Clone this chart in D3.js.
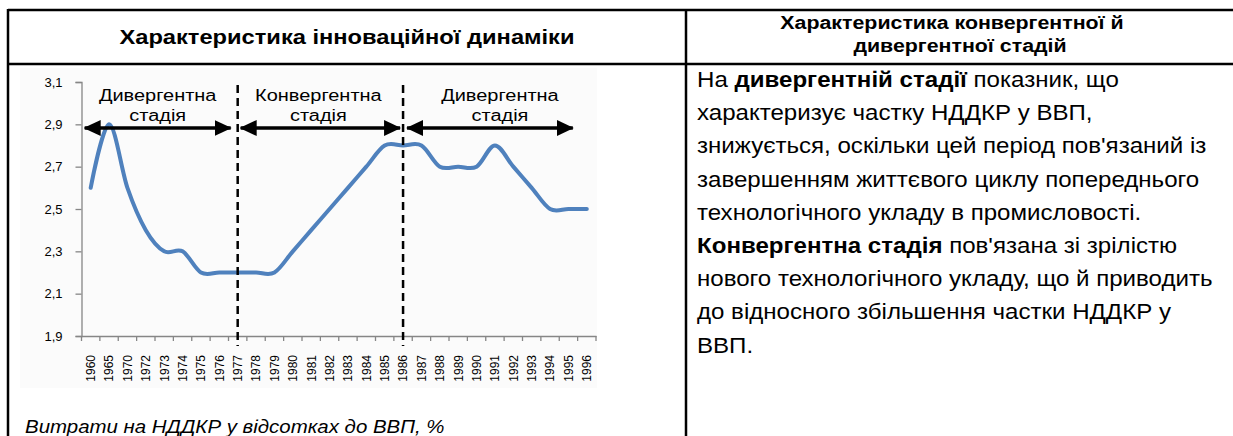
<!DOCTYPE html>
<html lang="uk">
<head>
<meta charset="utf-8">
<title>Інноваційна динаміка</title>
<script src="https://cdn.jsdelivr.net/npm/d3@7"></script>
<style>
body { margin: 0; background: #fff; }
svg text { font-family: "Liberation Sans", Arial, sans-serif; fill: #000; }
</style>
</head>
<body>
<script>
// chart data
var years = ["1960", "1965", "1970", "1972", "1973", "1974", "1975", "1976", "1977",
    "1978", "1979", "1980", "1981", "1982", "1983", "1984", "1985", "1986", "1987",
    "1988", "1989", "1990", "1991", "1992", "1993", "1994", "1995", "1996"];
var values = [2.6, 2.9, 2.6, 2.4, 2.3, 2.3, 2.2, 2.2, 2.2,
    2.2, 2.2, 2.3, 2.4, 2.5, 2.6, 2.7, 2.8, 2.8, 2.8,
    2.7, 2.7, 2.7, 2.8, 2.7, 2.6, 2.5, 2.5, 2.5];
var yTicks = [1.9, 2.1, 2.3, 2.5, 2.7, 2.9, 3.1];
var boundaryYears = ["1977", "1986"];
var stageNames = [["Дивергентна", "стадія"], ["Конвергентна", "стадія"], ["Дивергентна", "стадія"]];
var stageFrom = ["1960", "1977", "1986"];
var stageTo = ["1977", "1986", "1996"];

var caption = "Витрати на НДДКР у відсотках до ВВП, %";
var leftHeader = "Характеристика інноваційної динаміки";
var rightHeader = ["Характеристика конвергентної й", "дивергентної стадій"];
// each line: list of [text, bold]
var bodyLines = [
    [["На ", false], ["дивергентній стадії", true], [" показник, що", false]],
    [["характеризує частку НДДКР у ВВП,", false]],
    [["знижується, оскільки цей період пов'язаний із", false]],
    [["завершенням життєвого циклу попереднього", false]],
    [["технологічного укладу в промисловості.", false]],
    [["Конвергентна стадія", true], [" пов'язана зі зрілістю", false]],
    [["нового технологічного укладу, що й приводить", false]],
    [["до відносного збільшення частки НДДКР у", false]],
    [["ВВП.", false]]
];

var w = 1233, h = 436;
var svg = d3.select("body").append("svg")
    .attr("width", w)
    .attr("height", h);

// the source text is a bit wider than plain Arial, so stretch it a little
function place(x0, y0, sx) {
    return "translate(" + x0 + "," + y0 + ") scale(" + (sx || 1.155) + ",1)";
}

// table frame
var colX = 686, topY = 10, headY = 64, leftX = 8;
var frame = svg.append("g").attr("stroke", "#000").attr("stroke-width", 2.5);
frame.append("line").attr("x1", leftX).attr("x2", w).attr("y1", topY).attr("y2", topY);
frame.append("line").attr("x1", leftX).attr("x2", w).attr("y1", headY).attr("y2", headY);
frame.append("line").attr("x1", leftX).attr("x2", leftX).attr("y1", topY - 1).attr("y2", h);
frame.append("line").attr("x1", colX).attr("x2", colX).attr("y1", topY - 1).attr("y2", h);

svg.append("text")
    .attr("transform", place(347, 44))
    .attr("text-anchor", "middle")
    .attr("font-size", 20.5).attr("font-weight", "bold")
    .text(leftHeader);

svg.selectAll("text.rh")
    .data(rightHeader)
    .enter().append("text")
    .attr("class", "rh")
    .attr("transform", function(d, i) { return place(i ? 960 : 952, 29 + i * 23); })
    .attr("text-anchor", "middle")
    .attr("font-size", 18.5).attr("font-weight", "bold")
    .text(function(d) { return d; });

var body = svg.selectAll("text.body")
    .data(bodyLines)
    .enter().append("text")
    .attr("class", "body")
    .attr("transform", function(d, i) { return place(697, 87 + i * 33.2, 1.07); })
    .attr("font-size", 22.5);
body.selectAll("tspan")
    .data(function(d) { return d; })
    .enter().append("tspan")
    .attr("font-weight", function(d) { return d[1] ? "bold" : "normal"; })
    .text(function(d) { return d[0]; });

// chart
svg.append("rect")
    .attr("x", 20).attr("y", 68).attr("width", 577).attr("height", 320)
    .attr("fill", "#fbfbfb");

var x = d3.scaleBand()
    .domain(years)
    .range([81.5, 596])
    .paddingInner(0).paddingOuter(0);
var y = d3.scaleLinear()
    .domain([1.9, 3.1])
    .range([336, 82]);
var cx = function(yr) { return x(yr) + x.bandwidth() / 2; };

var axisColor = "#868686";

var yAxis = svg.append("g")
    .attr("transform", "translate(81.5,0)")
    .call(d3.axisLeft(y)
        .tickValues(yTicks)
        .tickSize(6)
        .tickPadding(13)
        .tickFormat(function(d) { return d3.format(".1f")(d).replace(".", ","); }));
yAxis.select(".domain").attr("stroke", axisColor).attr("stroke-width", 1.3);
yAxis.selectAll(".tick line").attr("stroke", axisColor).attr("stroke-width", 1.3);
yAxis.selectAll(".tick text")
    .attr("font-family", "DejaVu Sans, sans-serif")
    .attr("font-size", 13)
    .attr("fill", "#333");

var xAxis = svg.append("g")
    .attr("transform", "translate(0,336)")
    .call(d3.axisBottom(x).tickSize(0).tickPadding(0));
xAxis.select(".domain").attr("stroke", axisColor).attr("stroke-width", 1.3);
xAxis.selectAll(".tick text")
    .attr("font-family", "DejaVu Sans, sans-serif")
    .attr("font-size", 12)
    .attr("fill", "#333")
    .attr("text-anchor", "end")
    .attr("transform", "translate(0,19) rotate(-90)")
    .attr("x", 0).attr("y", 0)
    .attr("dy", "0.36em");
// tick marks sit between categories
xAxis.selectAll("line.edge")
    .data(years.concat(["end"]))
    .enter().append("line")
    .attr("class", "edge")
    .attr("x1", function(d, i) { return x.range()[0] + i * x.bandwidth(); })
    .attr("x2", function(d, i) { return x.range()[0] + i * x.bandwidth(); })
    .attr("y1", 0).attr("y2", 5)
    .attr("stroke", axisColor).attr("stroke-width", 1.3);

// series line
var line = d3.line()
    .x(function(d, i) { return cx(years[i]); })
    .y(function(d) { return y(d); })
    .curve(d3.curveCatmullRom.alpha(0));
svg.append("path")
    .datum(values)
    .attr("d", line)
    .attr("fill", "none")
    .attr("stroke", "#4f81bd")
    .attr("stroke-width", 4)
    .attr("stroke-linejoin", "round")
    .attr("stroke-linecap", "round");

// stage boundaries
svg.selectAll("line.bound")
    .data(boundaryYears)
    .enter().append("line")
    .attr("class", "bound")
    .attr("x1", function(d) { return cx(d); })
    .attr("x2", function(d) { return cx(d); })
    .attr("y1", 85).attr("y2", 346)
    .attr("stroke", "#000").attr("stroke-width", 2.5)
    .attr("stroke-dasharray", "8,5");

// arrows
var defs = svg.append("defs");
defs.append("marker")
    .attr("id", "head")
    .attr("markerUnits", "userSpaceOnUse")
    .attr("markerWidth", 17).attr("markerHeight", 16)
    .attr("refX", 16).attr("refY", 8)
    .attr("orient", "auto-start-reverse")
    .append("path")
    .attr("d", "M0,0 L17,8 L0,16 Z")
    .attr("fill", "#000");

var arrowY = 128;
var startPad = [-6, 3, 4];
var endPad = [-7, -3, -14];
var labelShift = [0, -2, 10];
var stages = stageNames.map(function(n, i) {
    var a = cx(stageFrom[i]) + startPad[i];
    var b = cx(stageTo[i]) + endPad[i];
    return { name: n, a: a, b: b, mid: (a + b) / 2 + labelShift[i] };
});

svg.selectAll("line.arrow")
    .data(stages)
    .enter().append("line")
    .attr("class", "arrow")
    .attr("x1", function(d) { return d.a; })
    .attr("x2", function(d) { return d.b; })
    .attr("y1", arrowY).attr("y2", arrowY)
    .attr("stroke", "#000").attr("stroke-width", 3.3)
    .attr("marker-start", "url(#head)")
    .attr("marker-end", "url(#head)");

svg.selectAll("g.stage")
    .data(stages)
    .enter().append("g")
    .attr("class", "stage")
    .selectAll("text")
    .data(function(d) { return d.name.map(function(t) { return { t: t, x: d.mid }; }); })
    .enter().append("text")
    .attr("transform", function(d, i) { return place(d.x, 101 + i * 20); })
    .attr("text-anchor", "middle")
    .attr("font-size", 17.3)
    .text(function(d) { return d.t; });

svg.append("text")
    .attr("transform", place(25, 433))
    .attr("font-size", 17.7).attr("font-style", "italic")
    .text(caption);
</script>
</body>
</html>
